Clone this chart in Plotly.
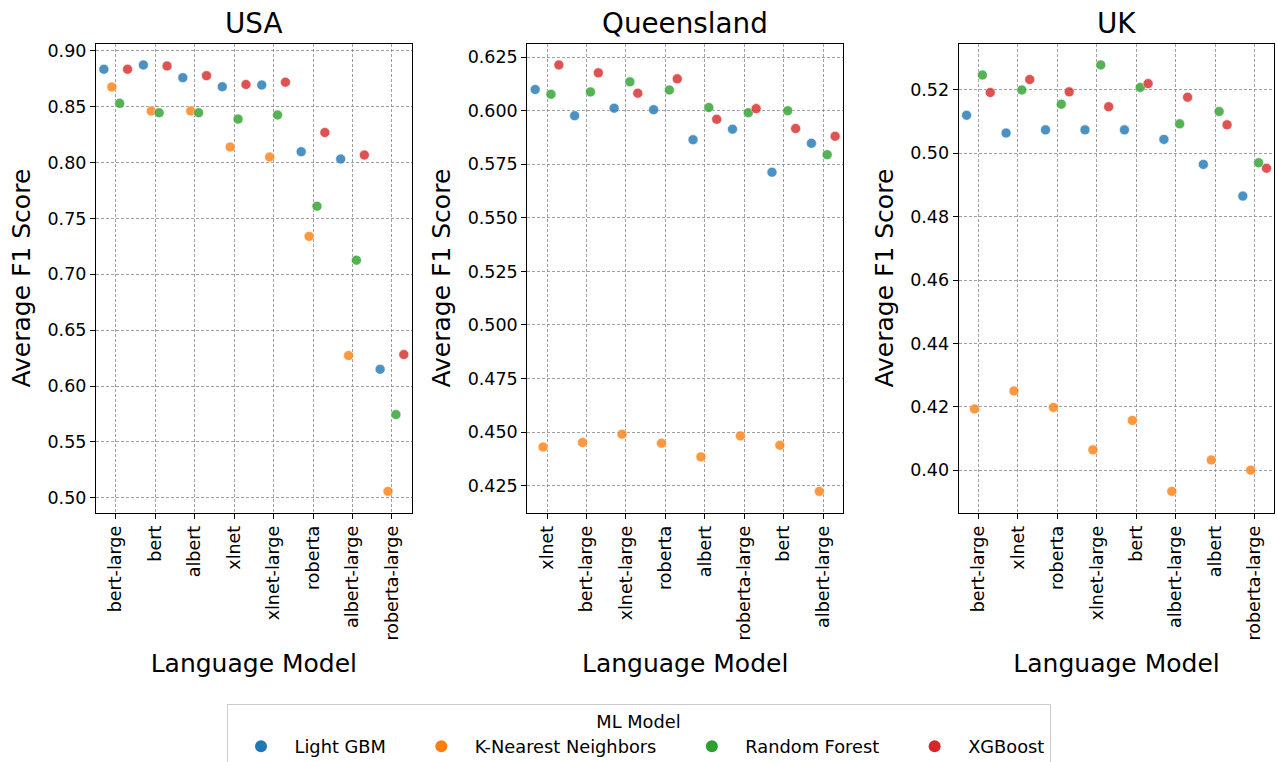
import plotly.graph_objects as go

# ---------------- data ----------------
ml_models = ["Light GBM", "K-Nearest Neighbors", "Random Forest", "XGBoost"]
colors = ["#1f77b4", "#ff7f0e", "#2ca02c", "#d62728"]

usa_lm = ["bert-large", "bert", "albert", "xlnet", "xlnet-large", "roberta", "albert-large", "roberta-large"]
usa_lgbm = [0.8836, 0.8875, 0.8761, 0.8680, 0.8695, 0.8098, 0.8032, 0.6150]
usa_knn = [0.8677, 0.8462, 0.8462, 0.8140, 0.8050, 0.7340, 0.6273, 0.5057]
usa_rf = [0.8531, 0.8447, 0.8447, 0.8390, 0.8427, 0.7610, 0.7127, 0.5745]
usa_xgb = [0.8836, 0.8866, 0.8779, 0.8700, 0.8720, 0.8270, 0.8068, 0.6282]

qld_lm = ["xlnet", "bert-large", "xlnet-large", "roberta", "albert", "roberta-large", "bert", "albert-large"]
qld_lgbm = [0.6099, 0.5977, 0.6012, 0.6005, 0.5865, 0.5914, 0.5713, 0.5848]
qld_knn = [0.4430, 0.4451, 0.4490, 0.4448, 0.4384, 0.4482, 0.4438, 0.4223]
qld_rf = [0.6077, 0.6088, 0.6135, 0.6097, 0.6015, 0.5991, 0.6000, 0.5795]
qld_xgb = [0.6214, 0.6177, 0.6082, 0.6149, 0.5960, 0.6010, 0.5917, 0.5881]

uk_lm = ["bert-large", "xlnet", "roberta", "xlnet-large", "bert", "albert-large", "albert", "roberta-large"]
uk_lgbm = [0.5120, 0.5064, 0.5074, 0.5074, 0.5074, 0.5044, 0.4965, 0.4865]
uk_knn = [0.4193, 0.4250, 0.4198, 0.4064, 0.4157, 0.3933, 0.4032, 0.4000]
uk_rf = [0.5247, 0.5200, 0.5155, 0.5279, 0.5208, 0.5093, 0.5132, 0.4970]
uk_xgb = [0.5192, 0.5233, 0.5194, 0.5147, 0.5220, 0.5177, 0.5090, 0.4953]

usa_ticks = [0.50, 0.55, 0.60, 0.65, 0.70, 0.75, 0.80, 0.85, 0.90]
qld_ticks = [0.425, 0.450, 0.475, 0.500, 0.525, 0.550, 0.575, 0.600, 0.625]
uk_ticks = [0.40, 0.42, 0.44, 0.46, 0.48, 0.50, 0.52]

panels = [
    ("USA", usa_lm, [usa_lgbm, usa_knn, usa_rf, usa_xgb], usa_ticks, ".2f"),
    ("Queensland", qld_lm, [qld_lgbm, qld_knn, qld_rf, qld_xgb], qld_ticks, ".3f"),
    ("UK", uk_lm, [uk_lgbm, uk_knn, uk_rf, uk_xgb], uk_ticks, ".2f"),
]

# ---------------- layout geometry ----------------
W, H = 1277, 762
FONT = "DejaVu Sans"
x_domains = [(96.0, 411.7), (527.3, 843.0), (958.7, 1274.4)]
y_domain = [(H - 512.7) / H, (H - 43.6) / H]

fig = go.Figure()
annotations = []
for i, (title, lms, series, ticks, fmt) in enumerate(panels):
    xa = "x" if i == 0 else f"x{i+1}"
    ya = "y" if i == 0 else f"y{i+1}"
    for name, col, vals in zip(ml_models, colors, series):
        fig.add_trace(go.Scatter(
            x=lms, y=vals, mode="markers", name=name,
            offsetgroup=name, showlegend=False,
            marker=dict(color=col, size=10, opacity=0.8,
                        line=dict(color="white", width=0.6)),
            xaxis=xa, yaxis=ya,
        ))
    allv = [v for s in series for v in s]
    lo, hi = min(allv), max(allv)
    pad = (hi - lo) * 0.05
    dom = [x_domains[i][0] / W, x_domains[i][1] / W]
    axis_common = dict(
        showline=True, linecolor="black", linewidth=1.1, mirror=True,
        ticks="outside", ticklen=5, tickwidth=1.1, tickcolor="black",
        showgrid=True, gridcolor="rgba(128,128,128,0.75)", gridwidth=0.8,
        griddash="3px,2px", zeroline=False,
        tickfont=dict(family=FONT, size=17.5, color="black"),
    )
    fig.layout[f"xaxis{'' if i == 0 else i+1}"] = dict(
        axis_common, domain=dom, anchor=ya, type="category",
        categoryorder="array", categoryarray=lms, range=[-0.5, len(lms) - 0.5],
        tickangle=-90,
        title=dict(text="Language Model", font=dict(family=FONT, size=25, color="black"), standoff=14),
    )
    fig.layout[f"yaxis{'' if i == 0 else i+1}"] = dict(
        axis_common, domain=y_domain, anchor=xa, range=[lo - pad, hi + pad],
        tickvals=ticks, tickformat=fmt,
        title=dict(text="Average F1 Score", font=dict(family=FONT, size=25, color="black"), standoff=9),
    )
    annotations.append(dict(
        text=title, xref="paper", yref="paper", x=(dom[0] + dom[1]) / 2,
        y=(H - 42) / H, xanchor="center", yanchor="bottom", showarrow=False,
        font=dict(family=FONT, size=27.8, color="black"),
    ))

# legend-only traces (solid markers like the reference legend)
NB = "\u00a0"
legend_names = [ml_models[0] + NB * 3, ml_models[1] + NB * 3, ml_models[2] + NB * 3, ml_models[3]]
for name, col in zip(legend_names, colors):
    fig.add_trace(go.Scatter(
        x=[None], y=[None], mode="markers", name=name, offsetgroup=name.strip(NB),
        marker=dict(color=col, size=12), showlegend=True, xaxis="x", yaxis="y",
    ))

fig.update_layout(
    width=W, height=H,
    margin=dict(l=0, r=0, t=0, b=0, autoexpand=False),
    paper_bgcolor="white", plot_bgcolor="white",
    font=dict(family=FONT, color="black"),
    scattermode="group", scattergap=0.2,
    annotations=annotations,
    legend=dict(
        orientation="h", x=0.5, xanchor="center", y=(H - 704) / H, yanchor="top",
        title=dict(text="ML Model", side="top center", font=dict(family=FONT, size=17.8)),
        font=dict(family=FONT, size=17.8, color="black"),
        bordercolor="#cccccc", borderwidth=1, bgcolor="rgba(255,255,255,0.8)",
        itemwidth=57,
    ),
)

fig.write_html("out.html", config={"displayModeBar": False},
               post_script="document.body.style.margin='0px';")
